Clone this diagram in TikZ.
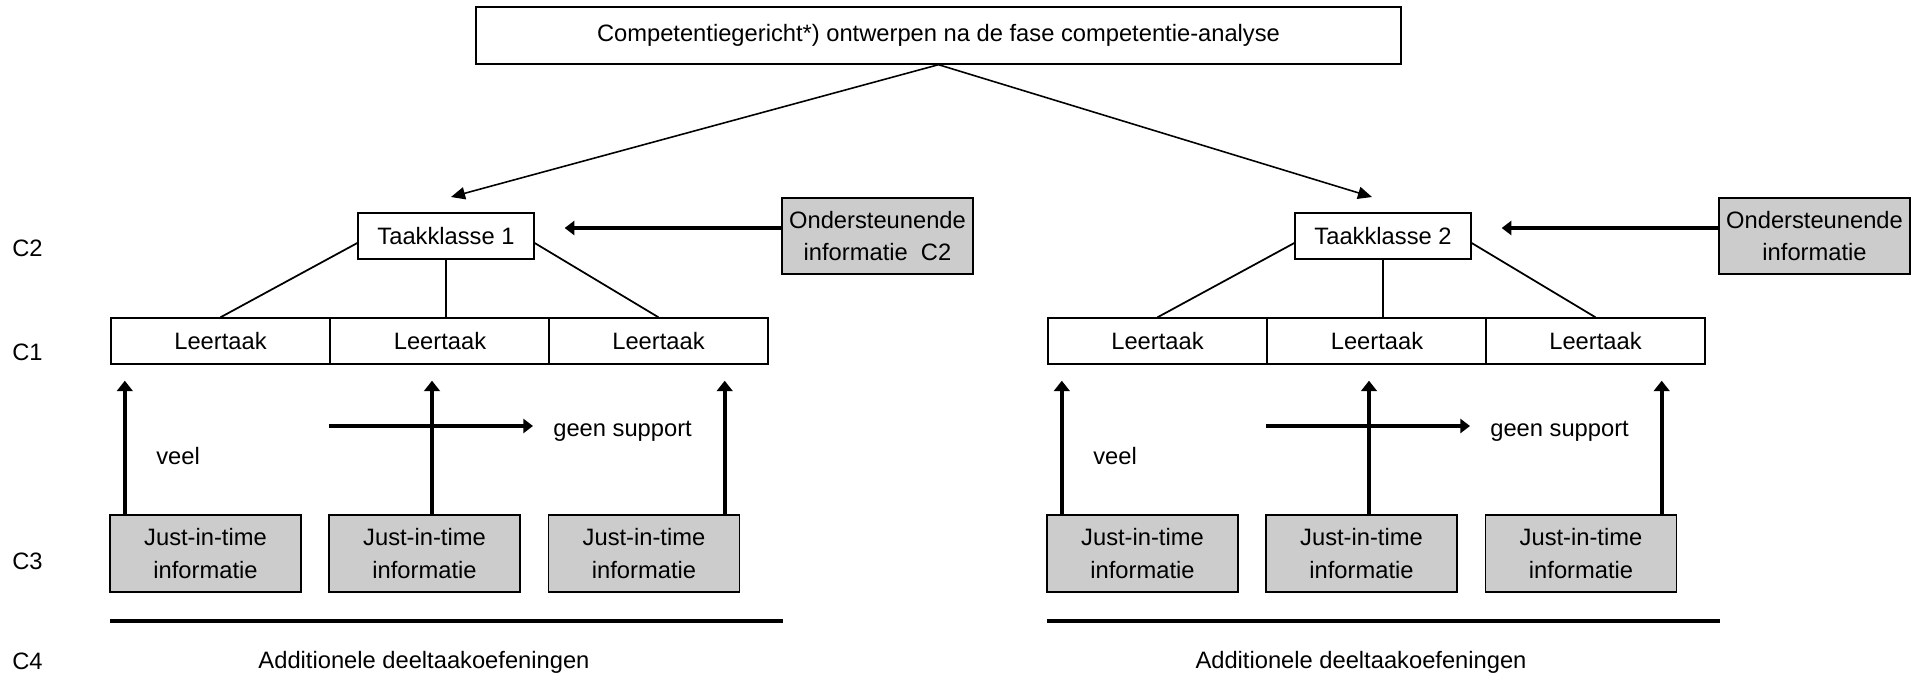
\documentclass[tikz,border=0pt]{standalone}
\usepackage{fontspec}
\setmainfont{Liberation Sans}
\usetikzlibrary{arrows.meta}
\definecolor{infogrey}{HTML}{CCCCCC}

\begin{document}
\begin{tikzpicture}[x=0.02cm,y=-0.02cm,
  font=\fontsize{13.5}{18.3}\selectfont,
  box/.style={draw,line width=0.8pt,inner sep=0pt,align=center},
  klassebox/.style={box,minimum width=3.52cm,minimum height=0.92cm},
  taakbox/.style={box,minimum width=4.38cm,minimum height=0.92cm},
  infobox/.style={box,fill=infogrey,minimum width=3.82cm,minimum height=1.52cm},
  jitbox/.style={infobox,minimum height=1.54cm},
  lbl/.style={inner sep=0pt},
  treeline/.style={line width=1pt},
  toparrow/.style={line width=0.9pt,-{Triangle[length=8pt,width=7pt]}},
  infoarrow/.style={line width=2.8pt,-{Triangle[length=5.5pt,width=8pt]}},
  uparrow/.style={line width=2.5pt,-{Triangle[length=6pt,width=9pt]}},
  supportarrow/.style={line width=1.9pt,-{Triangle[length=5.5pt,width=8pt]}}]

\useasboundingbox (0,0) rectangle (1919,673);

%TOP
\node[box,minimum width=18.5cm,minimum height=1.14cm] (top) at (938.5,35.5) {Competentiegericht*) ontwerpen na de fase competentie-analyse};
\coordinate (tip1) at (451,197);
\coordinate (tip2) at (1372,197);
\draw[toparrow] (top.south) -- (tip1);
\draw[toparrow] (top.south) -- (tip2);

%LEVELS
\node[lbl,anchor=west] (c2) at (12,248) {C2};
\node[lbl,anchor=west] (c1) at (12,352) {C1};
\node[lbl,anchor=west] (c3) at (12,561) {C3};
\node[lbl,anchor=west] (c4) at (12,661) {C4};

%GROUP 1
% task class
\node[klassebox] (klasse1) at (446,236) {Taakklasse 1};
\node[infobox] (onder1) at (877.5,236) {Ondersteunende\\informatie~~C2};
\draw[infoarrow,shorten >=0.6cm] ([yshift=0.16cm]onder1.west) -- ([yshift=0.16cm]klasse1.east);
% learning tasks
\node[taakbox] (taak11) at (220.5,341) {Leertaak};
\node[taakbox] (taak12) at (440,341) {Leertaak};
\node[taakbox] (taak13) at (658.5,341) {Leertaak};
\draw[treeline] ([yshift=-0.14cm]klasse1.west) -- (taak11.north);
\draw[treeline] (klasse1.south) -- (klasse1.south |- taak12.north);
\draw[treeline] ([yshift=-0.14cm]klasse1.east) -- (taak13.north);
% just-in-time
\node[jitbox] (jit11) at (205.5,553.5) {Just-in-time\\informatie};
\node[jitbox] (jit12) at (424.5,553.5) {Just-in-time\\informatie};
\node[jitbox] (jit13) at (644,553.5) {Just-in-time\\informatie};
\draw[uparrow,shorten >=0.32cm] ([xshift=0.31cm]jit11.north west) -- ([xshift=0.31cm]jit11.north west |- taak11.south);
\draw[uparrow,shorten >=0.32cm] ([xshift=0.15cm]jit12.north) -- ([xshift=0.15cm]jit12.north |- taak12.south);
\draw[uparrow,shorten >=0.32cm] ([xshift=-0.31cm]jit13.north east) -- ([xshift=-0.31cm]jit13.north east |- taak13.south);
% support
\coordinate (gs1) at (329,426);
\node[lbl,anchor=west] (geen1) at (553,431) {geen support};
\draw[supportarrow,shorten >=0.4cm] (gs1) -- (gs1 -| geen1.west);
\node[lbl,anchor=west] (veel1) at (156,456) {veel};
% part-task practice
\coordinate (line1a) at (110,621);
\coordinate (line1b) at (783,621);
\draw[line width=2.2pt] (line1a) -- (line1b);
\node[lbl] (add1) at (424,662) {Additionele deeltaakoefeningen};

%GROUP 2
% task class
\node[klassebox] (klasse2) at (1383,236) {Taakklasse 2};
\node[infobox] (onder2) at (1814.5,236) {Ondersteunende\\informatie};
\draw[infoarrow,shorten >=0.6cm] ([yshift=0.16cm]onder2.west) -- ([yshift=0.16cm]klasse2.east);
% learning tasks
\node[taakbox] (taak21) at (1157.5,341) {Leertaak};
\node[taakbox] (taak22) at (1377,341) {Leertaak};
\node[taakbox] (taak23) at (1595.5,341) {Leertaak};
\draw[treeline] ([yshift=-0.14cm]klasse2.west) -- (taak21.north);
\draw[treeline] (klasse2.south) -- (klasse2.south |- taak22.north);
\draw[treeline] ([yshift=-0.14cm]klasse2.east) -- (taak23.north);
% just-in-time
\node[jitbox] (jit21) at (1142.5,553.5) {Just-in-time\\informatie};
\node[jitbox] (jit22) at (1361.5,553.5) {Just-in-time\\informatie};
\node[jitbox] (jit23) at (1581,553.5) {Just-in-time\\informatie};
\draw[uparrow,shorten >=0.32cm] ([xshift=0.31cm]jit21.north west) -- ([xshift=0.31cm]jit21.north west |- taak21.south);
\draw[uparrow,shorten >=0.32cm] ([xshift=0.15cm]jit22.north) -- ([xshift=0.15cm]jit22.north |- taak22.south);
\draw[uparrow,shorten >=0.32cm] ([xshift=-0.31cm]jit23.north east) -- ([xshift=-0.31cm]jit23.north east |- taak23.south);
% support
\coordinate (gs2) at (1266,426);
\node[lbl,anchor=west] (geen2) at (1490,431) {geen support};
\draw[supportarrow,shorten >=0.4cm] (gs2) -- (gs2 -| geen2.west);
\node[lbl,anchor=west] (veel2) at (1093,456) {veel};
% part-task practice
\coordinate (line2a) at (1047,621);
\coordinate (line2b) at (1720,621);
\draw[line width=2.2pt] (line2a) -- (line2b);
\node[lbl] (add2) at (1361,662) {Additionele deeltaakoefeningen};

\end{tikzpicture}
\end{document}
